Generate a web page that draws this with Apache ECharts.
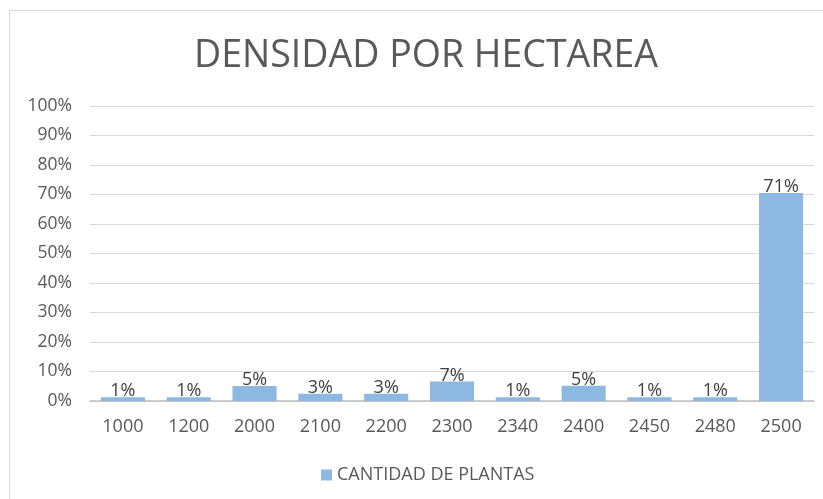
<!DOCTYPE html>
<html><head><meta charset="utf-8">
<script src="https://cdn.jsdelivr.net/npm/echarts@6/dist/echarts.min.js"></script>
<style>html,body{margin:0;padding:0;background:#fff}#c{width:823px;height:499px}</style>
</head><body><div id="c"></div>
<script>
const categories = ['1000','1200','2000','2100','2200','2300','2340','2400','2450','2480','2500'];
const values = [1.3, 1.3, 5.1, 2.5, 2.5, 6.6, 1.3, 5.2, 1.3, 1.3, 70.5];
const seriesName = 'CANTIDAD DE PLANTAS';
const titleText = 'DENSIDAD POR HECTAREA';

const chart = echarts.init(document.getElementById('c'));
const font = 'Open Sans';
chart.setOption({
  animation: false,
  graphic: [{type:'rect', shape:{x:9.5,y:10.5,width:830,height:500}, style:{fill:'none', stroke:'#d9d9d9', lineWidth:1}}],
  title: {text: titleText, left: 189, top: 32, textStyle:{fontFamily: font, fontSize: 37.5, fontWeight: 'normal', color:'#595959'}},
  grid: {left: 90, right: 9, top: 106, bottom: 98},
  legend: {top: 461, left: 316, icon: 'rect', itemWidth: 11, itemHeight: 11, itemGap: 6,
    textStyle:{fontFamily: font, fontSize: 18, color:'#595959'}},
  xAxis: {type:'category', data: categories,
    axisLine:{lineStyle:{color:'#bfbfbf', width:1.5}}, axisTick:{show:false},
    axisLabel:{fontFamily: font, fontSize: 18, color:'#595959', margin: 17}},
  yAxis: {type:'value', min:0, max:100, interval:10,
    axisLabel:{formatter:'{value}%', fontFamily: font, fontSize: 17.5, color:'#595959', margin: 18},
    splitLine:{lineStyle:{color:'#d9d9d9', width:1}}, axisLine:{show:false}, axisTick:{show:false}},
  series: [{name: seriesName, type:'bar', data: values, barCategoryGap:'33%',
    itemStyle:{color:'#8db8e2'},
    label:{show:true, position:'top', distance: -3, fontFamily: font, fontSize: 18, color:'#404040',
      formatter: p => Math.round(p.value) + '%'}}]
});
</script></body></html>
